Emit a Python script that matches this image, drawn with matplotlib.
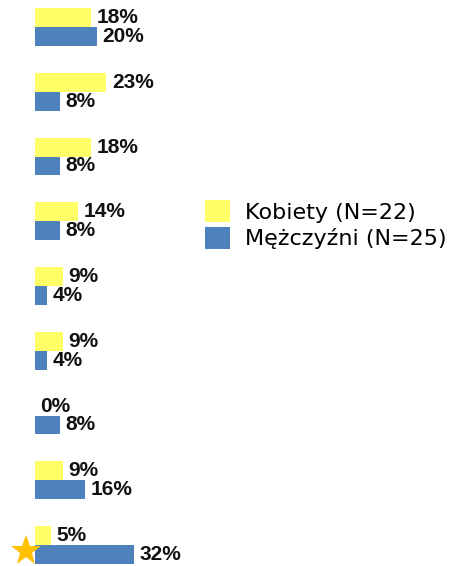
import matplotlib
matplotlib.use("Agg")
import matplotlib.pyplot as plt
from matplotlib.patches import Patch
import numpy as np

categories = ["1", "2", "3", "4", "5", "6", "7", "8", "9"]
kobiety = [18, 23, 18, 14, 9, 9, 0, 9, 5]
mezczyzni = [20, 8, 8, 8, 4, 4, 8, 16, 32]
series_names = ["Kobiety (N=22)", "Mężczyźni (N=25)"]
colors = ["#FFFF66", "#4F81BD"]

W, H = 451, 566
fig = plt.figure(figsize=(W / 100, H / 100), dpi=100)
px_per_pct = 3.1
x_max = 40
ax = fig.add_axes([35 / W, 0, x_max * px_per_pct / W, 1])

n = len(categories)
pos = np.arange(n)[::-1].astype(float)
h = 0.29
ax.barh(pos + h / 2, kobiety, height=h, color=colors[0], linewidth=0)
ax.barh(pos - h / 2, mezczyzni, height=h, color=colors[1], linewidth=0)

lab_kw = dict(textcoords="offset points", ha="left", va="center",
              fontsize=15, fontweight="bold", family="Liberation Sans",
              color="#111111", annotation_clip=False)
for p, v in zip(pos, kobiety):
    ax.annotate(f"{v}%", (v, p + h / 2), xytext=(4.0, 0), **lab_kw)
for p, v in zip(pos, mezczyzni):
    ax.annotate(f"{v}%", (v, p - h / 2), xytext=(4.0, 0), **lab_kw)

# star marker next to the last category
ax.plot([-2.75], [pos[-1] - 0.09], marker="*", ms=23, color="#FFC000",
        markeredgewidth=0, clip_on=False)

ax.set_xlim(0, x_max)
ax.set_ylim(-0.324, 8.417)
ax.axis("off")

handles = [Patch(facecolor=c, edgecolor="none") for c in colors]
fig.legend(handles, series_names, loc="upper left",
           bbox_to_anchor=(205 / W, 1 - 200 / H), frameon=False,
           fontsize=16, handlelength=1.13, handleheight=1.17,
           handletextpad=0.68, labelspacing=0.18, borderpad=0,
           borderaxespad=0)

fig.savefig("out.png", dpi=100)
